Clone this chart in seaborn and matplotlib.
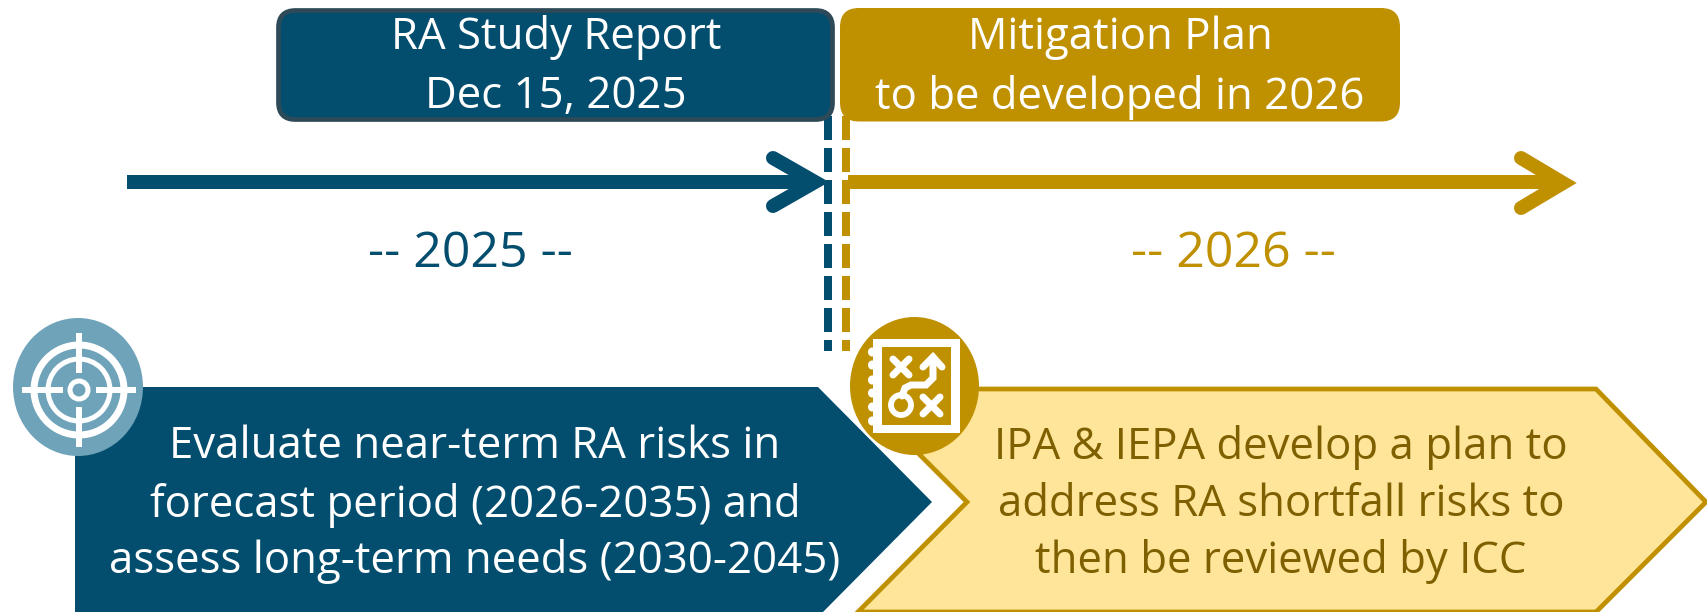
import numpy as np
import pandas as pd
import matplotlib
matplotlib.use("Agg")
import matplotlib.pyplot as plt
from matplotlib.patches import FancyBboxPatch, Polygon, Ellipse, Rectangle
import seaborn as sns

sns.set_theme(style="white")
plt.rcParams['font.family'] = ['Open Sans', 'DejaVu Sans']

BLUE = "#034E6E"; BLUE_EDGE = "#2E4A58"; GOLD = "#BF9000"; LIGHT = "#FFE599"; DARK = "#7F6000"; TEAL = "#6FA3B9"

report_lines = ["RA Study Report", "Dec 15, 2025"]
plan_lines = ["Mitigation Plan", "to be developed in 2026"]
year_labels = ["-- 2025 --", "-- 2026 --"]
evaluate_lines = ["Evaluate near-term RA risks in", "forecast period (2026-2035) and", "assess long-term needs (2030-2045)"]
develop_lines = ["IPA & IEPA develop a plan to", "address RA shortfall risks to", "then be reviewed by ICC"]

FS = 31.5

fig = plt.figure(figsize=(17.08, 6.12), dpi=100)
ax = fig.add_axes([0, 0, 1, 1])
ax.set_xlim(0, 1708); ax.set_ylim(612, 0); ax.axis("off")

def stem(xs, ys, color, lw, cap="butt", z=2):
    d = pd.DataFrame({"x": xs, "y": ys})
    sns.lineplot(data=d, x="x", y="y", ax=ax, color=color, linewidth=lw*0.72,
                 sort=False, estimator=None, solid_capstyle=cap, solid_joinstyle="miter",
                 zorder=z, legend=False)

# header boxes
ax.add_patch(FancyBboxPatch((278.5, 10.5), 554, 109, boxstyle="round,pad=0,rounding_size=17", fc=BLUE, ec=BLUE_EDGE, lw=3.4, zorder=3))
ax.add_patch(FancyBboxPatch((840, 8), 560, 113.5, boxstyle="round,pad=0,rounding_size=19", fc=GOLD, ec="none", lw=0, zorder=3))
for x, lines in ((556, report_lines), (1120, plan_lines)):
    for y, s in zip((38, 97), lines):
        ax.text(x, y, s, color="white", fontsize=FS, ha="center", va="center", zorder=4)

# dashed drop lines
for x, c in ((828, BLUE), (846, GOLD)):
    for y0 in range(116, 352, 32):
        y1 = min(y0 + 24, 351)
        ax.add_patch(Rectangle((x - 4, y0), 8, y1 - y0, fc=c, ec="none", zorder=1))

# timeline arrows
stem([127, 815], [182, 182], BLUE, 14, z=2)
stem([773, 815, 773], [158, 182, 206], BLUE, 14, cap="round", z=2)
stem([848, 1560], [182, 182], GOLD, 14, z=2)
stem([1521, 1563, 1521], [158, 183, 208], GOLD, 14, cap="round", z=2)
ax.text(470, 254, year_labels[0], color=BLUE, fontsize=36, ha="center", va="center")
ax.text(1233, 254, year_labels[1], color=GOLD, fontsize=36, ha="center", va="center")

# lower shapes
ax.add_patch(Polygon([(75, 387), (818, 387), (932, 502), (823, 612), (75, 612)], fc=BLUE, ec="none", zorder=2))
ax.add_patch(Polygon([(890, 389), (1596, 389), (1706, 502), (1596, 612), (858, 612), (967, 502), (890, 425)],
                     fc=LIGHT, ec=GOLD, lw=3.4, joinstyle="miter", zorder=2))
for y, a, b in zip((447, 505, 562), evaluate_lines, develop_lines):
    ax.text(475, y, a, color="white", fontsize=FS, ha="center", va="center", zorder=4)
    ax.text(1281, y, b, color=DARK, fontsize=FS, ha="center", va="center", zorder=4)

# target icon
ax.add_patch(Ellipse((78, 387), 130, 138, fc=TEAL, ec="none", zorder=5))
cx, cy = 79, 390
for r, w in ((45, 7), (31, 5), (9, 5)):
    ax.add_patch(Ellipse((cx, cy), 2*r, 2*r, fc="none", ec="white", lw=w*0.72, zorder=6))
for xs, ys in (((22, 63), (cy, cy)), ((96, 136), (cy, cy)), ((cx, cx), (333, 373)), ((cx, cx), (407, 447))):
    stem(list(xs), list(ys), "white", 6, z=6)

# plan icon
ax.add_patch(Ellipse((914.5, 386), 129, 138, fc=GOLD, ec="none", zorder=5))
ax.add_patch(Rectangle((873, 339), 87, 94, fc="white", ec="none", zorder=6))
ax.add_patch(Rectangle((882, 347), 69, 78, fc=GOLD, ec="none", zorder=7))
for y in (352, 365, 380, 393, 407, 421):
    ax.add_patch(Ellipse((872, y), 8, 9, fc="white", ec="none", zorder=6))
def icon(xs, ys):
    stem(xs, ys, "white", 7, cap="round", z=8)
icon([893, 909], [359, 375]); icon([893, 909], [375, 359])
icon([923, 940], [397, 414]); icon([923, 940], [414, 397])
icon([923, 933, 942], [367, 357, 367])
icon([933, 933, 926, 911, 905, 902], [357, 378, 385, 385, 388, 396])
ax.add_patch(Ellipse((901, 405), 20, 20, fc="none", ec="white", lw=4.2, zorder=8))

fig.savefig("out.png", dpi=100)
